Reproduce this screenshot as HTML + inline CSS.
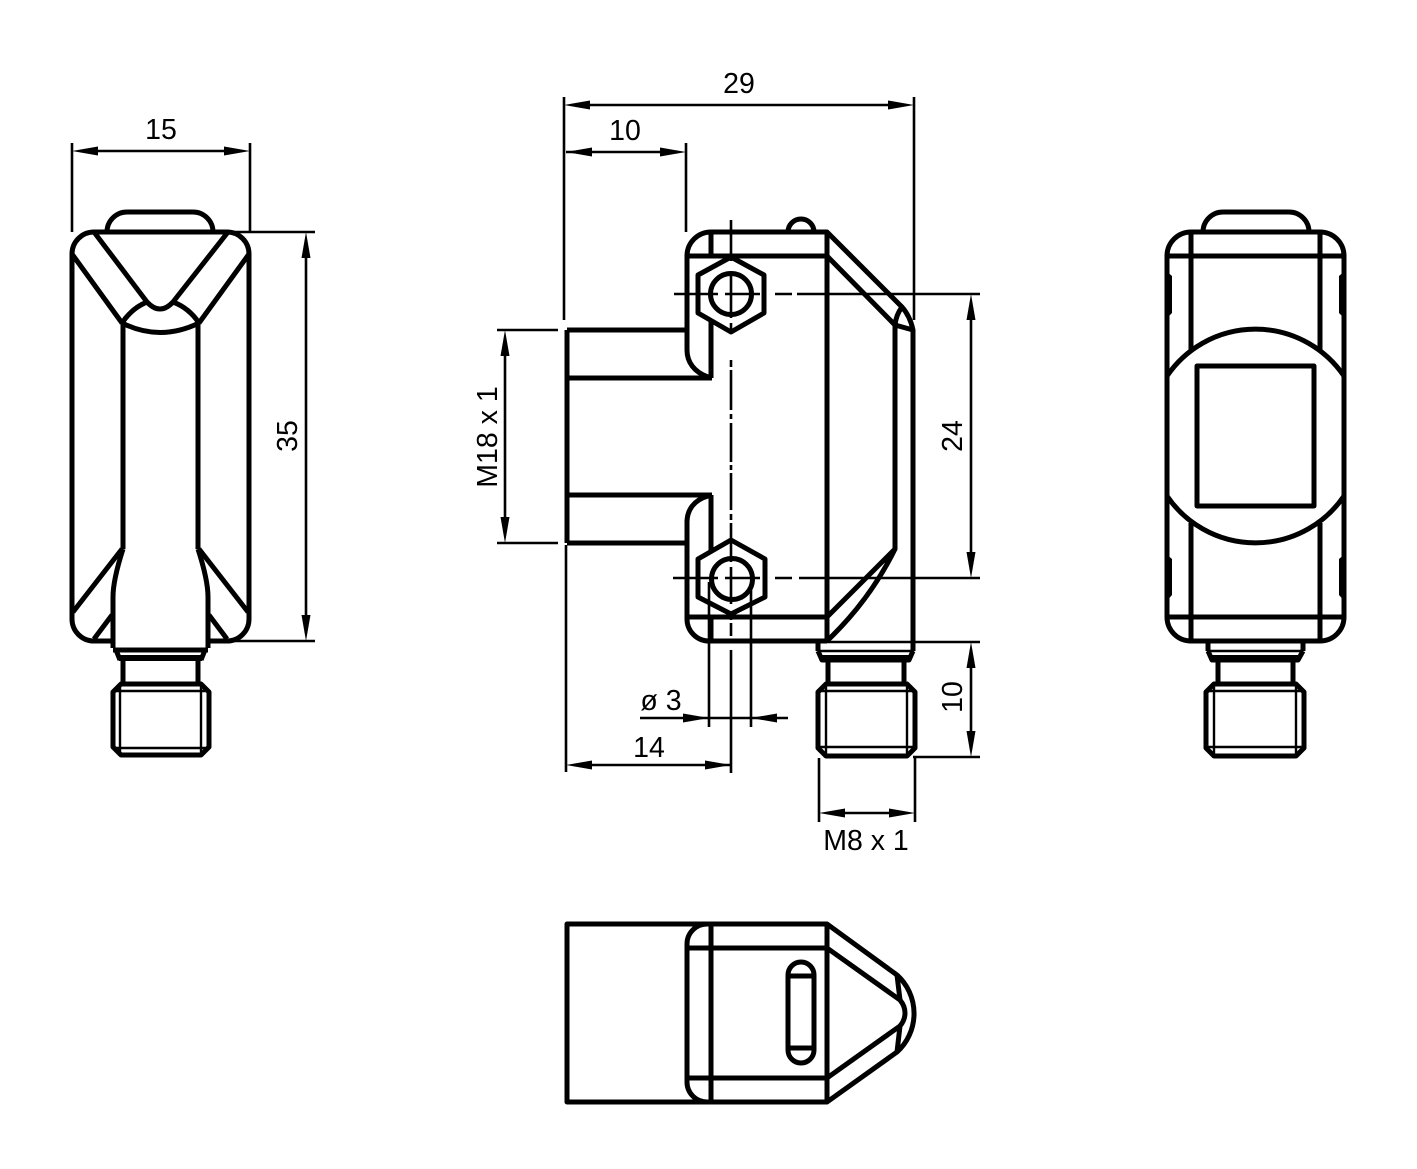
<!DOCTYPE html>
<html><head><meta charset="utf-8"><style>
html,body{margin:0;padding:0;background:#fff}
svg{display:block}
text{font-family:"Liberation Sans",sans-serif;font-size:28.5px;fill:#000;text-anchor:middle}
.m{fill:none;stroke:#000;stroke-width:5;stroke-linejoin:round}
.n{fill:none;stroke:#000;stroke-width:2.6}
.t{fill:none;stroke:#000;stroke-width:2.4}
.f{fill:#000;stroke:none}
</style></head><body>
<svg width="1417" height="1169" viewBox="0 0 1417 1169" xmlns="http://www.w3.org/2000/svg">
<rect width="1417" height="1169" fill="#fff"/>

<!-- LEFT VIEW -->
<g class="m">
<path d="M113 641H94A22 22 0 0 1 72 619V254A22 22 0 0 1 94 232H227A22 22 0 0 1 249 254V619A22 22 0 0 1 227 641H208"/>
<path d="M107 232A20 20 0 0 1 127 212H193A20 20 0 0 1 213 232"/>
<path d="M94 232L147 302Q160 316 173 302L228 232"/>
<path d="M72 254L122 323M249 254L199 323"/>
<path d="M122 323Q132 308 147 302M199 323Q189 308 173 302"/>
<path d="M122 323Q160 342 199 323"/>
<path d="M123 323V549M198 323V549"/>
<path d="M123 549Q113 580 113 597V648M198 549Q208 580 208 597V648"/>
<path d="M122 549L73 612M199 549L248 612"/>
<path d="M94 639L112 615M227 639L209 615"/>
<path d="M113 650H208M116 650L120 660M205 650L201 660"/>
<path d="M123 660V684M198 660V684"/>
<path d="M121 684H201L209 692V747L201 755H121L113 747V692Z"/>
</g>
<rect class="f" x="119" y="655" width="83" height="6"/>
<path class="t" d="M113 691H209M113 748H209M120 684V755M201 684V755"/>

<!-- MIDDLE VIEW -->
<g class="m">
<path d="M567 330H688M567 378H712M567 495H712M567 543H688M567 330V543"/>
<path d="M687 256A24 24 0 0 1 711 232H827L902 307Q910 316 913 330V651"/>
<path d="M687 256V350C687 362 694 372 708 377M687 522C687 510 694 500 708 496M687 520V619A22 22 0 0 0 709 641H827"/>
<path d="M687 256H827L895 325M711 232V256M711 322V378M711 495V552M711 617V641"/>
<path d="M788 232A13 13 0 0 1 814 232"/>
<path d="M827 232V641"/>
<path d="M902 307Q896 315 895 325L913 330M895 325V549"/>
<path d="M687 617H827L895 549Q870 600 827 641"/>
<path d="M731 257L764 275V313L731 332L698 313V275Z"/>
<circle cx="731" cy="294" r="20.5"/>
<path d="M731 540L765 559V597L731 614L698 597V559Z"/>
<circle cx="732" cy="579" r="20.5"/>
<path d="M818 642V651M818 651L822 660H909L913 651"/>
<path d="M828 660V684M904 660V684"/>
<path d="M826 684H907L915 692V748L907 756H826L818 748V692Z"/>
</g>
<rect class="f" x="822" y="655" width="87" height="6"/>
<path class="t" d="M818 651H914M818 691H915M818 747H915M826 684V756M907 684V756"/>

<!-- RIGHT VIEW -->
<g class="m">
<path d="M1191 641A24 24 0 0 1 1167 617V256A24 24 0 0 1 1191 232H1320A24 24 0 0 1 1344 256V617A24 24 0 0 1 1320 641Z"/>
<path d="M1203 232A20 20 0 0 1 1223 212H1289A20 20 0 0 1 1309 232"/>
<path d="M1167 256H1344M1167 617H1344"/>
<path d="M1191 232V350M1320 232V350M1191 523V641M1320 523V641"/>
<path d="M1167 376A107 107 0 0 1 1344 376M1167 496A107 107 0 0 0 1344 496"/>
<rect x="1197" y="366" width="117" height="140"/>
<path d="M1208 641V651M1303 641V651M1208 651L1212 660H1298L1303 651"/>
<path d="M1218 660V684M1293 660V684"/>
<path d="M1214 684H1296L1304 692V748L1296 756H1214L1206 748V692Z"/>
</g>
<rect class="f" x="1212" y="655" width="86" height="6"/>
<path class="t" d="M1207 651H1303M1206 691H1304M1206 747H1304M1214 684V756M1296 684V756"/>
<g class="f">
<path d="M1165 270L1172 276V313L1165 320Z"/>
<path d="M1346 270L1339 276V313L1346 320Z"/>
<path d="M1165 553L1172 559V595L1165 603Z"/>
<path d="M1346 553L1339 559V595L1346 603Z"/>
</g>

<!-- BOTTOM VIEW -->
<g class="m">
<path d="M567 924H827L897 975A52 52 0 0 1 897 1052L827 1102H567Z"/>
<path d="M707 924A20 20 0 0 0 687 944V1082A20 20 0 0 0 707 1102"/>
<path d="M711 924V1102M687 948H827M687 1078H827M827 924V1102"/>
<path d="M827 948L900 1000Q905 1006 905 1013Q905 1020 900 1026L827 1078"/>
<path d="M897 975L900 1000M897 1052L900 1026"/>
<rect x="788" y="962" width="26" height="101" rx="13"/>
<path d="M788 976H814M788 1048H814"/>
</g>

<!-- DIMENSION LINES -->
<g class="n">
<path d="M72 143V232M250 143V232M80 151H242"/>
<path d="M226 232H315M226 641H315M306 240V633"/>
<path d="M564 97V320M914 97V320M572 105H906"/>
<path d="M566 152H678M686 143V232"/>
<path d="M497 330H558M497 543H558M505 338V535M566 545V772"/>
<path d="M674 294H718M725 294H760M775 294H792M797 294H980"/>
<path d="M673 578H718M725 578H760M775 578H792M799 578H980"/>
<path d="M971 302V570"/>
<path d="M915 642H980M827 642H915M913 757H980M971 650V749"/>
<path d="M709 582V727M751 590V727M640 718H788"/>
<path d="M574 765H731"/>
<path d="M819 758V822M915 758V822M827 813H907"/>
<path d="M731 220V261M731 272V318M731 323V334M731 360V367M731 370V410M731 414V419M731 423V462M731 465V470M731 473V510M731 514V520M731 523V562M731 567V604M731 612V620M731 623V636M731 650V773"/>
</g>

<!-- ARROWHEADS -->
<g class="f">
<path d="M72 151L98 146.500V155.500Z"/><path d="M250 151L224 146.500V155.500Z"/>
<path d="M306 232L301.500 258H310.500Z"/><path d="M306 641L301.500 615H310.500Z"/>
<path d="M564 105L590 100.500V109.500Z"/><path d="M914 105L888 100.500V109.500Z"/>
<path d="M566 152L592 147.500V156.500Z"/><path d="M686 152L660 147.500V156.500Z"/>
<path d="M505 330L500.500 356H509.500Z"/><path d="M505 543L500.500 517H509.500Z"/>
<path d="M971 294L966.500 320H975.500Z"/><path d="M971 578L966.500 552H975.500Z"/>
<path d="M971 642L966.500 668H975.500Z"/><path d="M971 757L966.500 731H975.500Z"/>
<path d="M709 718L683 713.500V722.500Z"/><path d="M751 718L777 713.500V722.500Z"/>
<path d="M566 765L592 760.500V769.500Z"/><path d="M731 765L705 760.500V769.500Z"/>
<path d="M819 813L845 808.500V817.500Z"/><path d="M915 813L889 808.500V817.500Z"/>
</g>

<!-- LABELS -->
<text x="161" y="139">15</text>
<text x="739" y="93">29</text>
<text x="625" y="140">10</text>
<text x="661" y="710">ø 3</text>
<text x="649" y="757">14</text>
<text x="866" y="850">M8 x 1</text>
<text transform="translate(297 436) rotate(-90)">35</text>
<text transform="translate(497 437) rotate(-90)">M18 x 1</text>
<text transform="translate(962 436) rotate(-90)">24</text>
<text transform="translate(962 697) rotate(-90)">10</text>
</svg>
</body></html>
